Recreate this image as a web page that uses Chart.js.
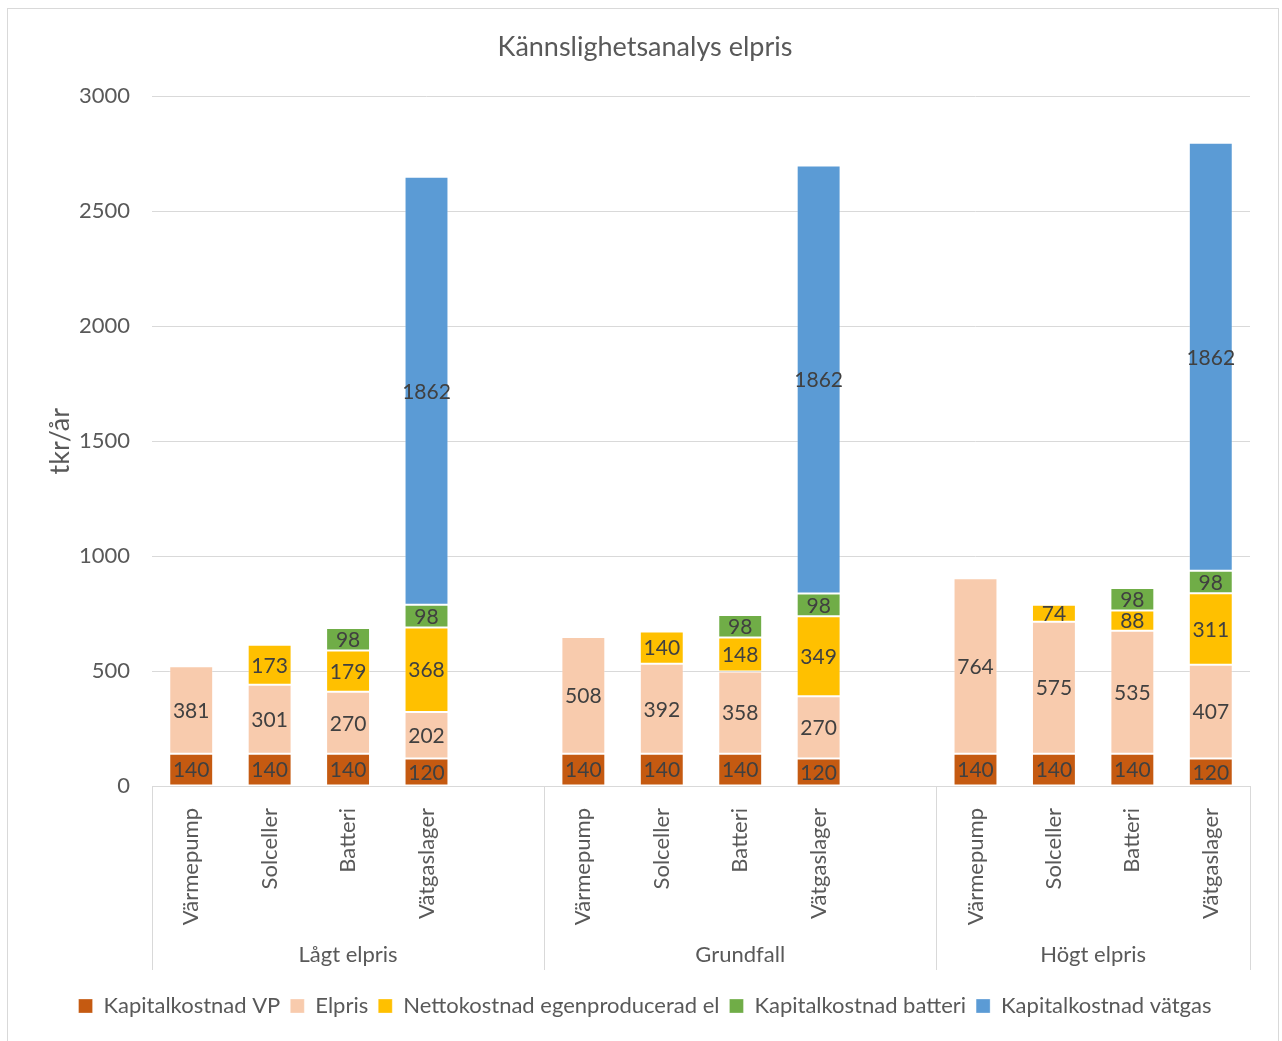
<!DOCTYPE html>
<html>
<head>
<meta charset="utf-8">
<script src="https://cdn.jsdelivr.net/npm/chart.js"></script>
<style>
  html, body { margin: 0; padding: 0; background: #fff; }
  #wrap { width: 1282px; height: 1041px; position: relative; }
</style>
</head>
<body>
<div id="wrap"><canvas id="chart"></canvas></div>
<script>
// categories (blank slots separate the groups)
const categories = [
  "Värmepump", "Solceller", "Batteri", "Vätgaslager", "",
  "Värmepump", "Solceller", "Batteri", "Vätgaslager", "",
  "Värmepump", "Solceller", "Batteri", "Vätgaslager"
];
const groupLabels = ["Lågt elpris", "Grundfall", "Högt elpris"];
const groupStarts = [0, 5, 10];
const groupEnds = [4, 9, 13];

const kapitalVP = [140, 140, 140, 120, null, 140, 140, 140, 120, null, 140, 140, 140, 120];
const elpris = [381, 301, 270, 202, null, 508, 392, 358, 270, null, 764, 575, 535, 407];
const nettokostnad = [null, 173, 179, 368, null, null, 140, 148, 349, null, null, 74, 88, 311];
const kapitalBatteri = [null, null, 98, 98, null, null, null, 98, 98, null, null, null, 98, 98];
const kapitalVatgas = [null, null, null, 1862, null, null, null, null, 1862, null, null, null, null, 1862];

const yTicks = [0, 500, 1000, 1500, 2000, 2500, 3000];

const FONT = "Lato";
const TEXT = "#595959";
const GRID = "#d9d9d9";

const frame = {
  id: "frame",
  beforeDraw(chart) {
    const c = chart.ctx;
    c.save();
    c.fillStyle = "#fff";
    c.fillRect(0, 0, chart.width, chart.height);
    c.strokeStyle = GRID;
    c.lineWidth = 1;
    c.strokeRect(7.5, 8.5, 1271, 1040);
    c.restore();
  },
};

const segmentLabels = {
  id: "segmentLabels",
  afterDatasetsDraw(chart) {
    const c = chart.ctx;
    c.save();
    c.font = "21px " + FONT;
    c.fillStyle = "#404040";
    c.textAlign = "center";
    c.textBaseline = "middle";
    chart.data.datasets.forEach((ds, i) => {
      const meta = chart.getDatasetMeta(i);
      meta.data.forEach((bar, j) => {
        const v = ds.data[j];
        if (v == null) return;
        c.fillText(String(v), bar.x, (bar.y + bar.base) / 2 + 1);
      });
    });
    c.restore();
  },
};

const groupAxis = {
  id: "groupAxis",
  afterDraw(chart) {
    const x = chart.scales.x;
    const c = chart.ctx;
    const top = chart.chartArea.bottom;
    const half = (x.getPixelForValue(1) - x.getPixelForValue(0)) / 2;
    c.save();
    c.strokeStyle = GRID;
    c.lineWidth = 1;
    c.font = "22px " + FONT;
    c.fillStyle = TEXT;
    c.textAlign = "center";
    c.textBaseline = "middle";
    const edges = [];
    groupLabels.forEach((label, g) => {
      const l = x.getPixelForValue(groupStarts[g]) - half;
      const r = x.getPixelForValue(groupEnds[g]) + half;
      edges.push(l, r);
      c.fillText(label, (l + r) / 2, 955);
    });
    [...new Set(edges.map((e) => Math.round(e)))].forEach((e) => {
      c.beginPath();
      c.moveTo(e + 0.5, top);
      c.lineTo(e + 0.5, 970);
      c.stroke();
    });
    c.restore();
  },
};

function makeSet(label, data, color) {
  return {
    label,
    data,
    backgroundColor: color,
    borderColor: "rgba(255,255,255,0.3)",
    borderWidth: 1,
    borderSkipped: false,
    barPercentage: 0.56,
    categoryPercentage: 1,
  };
}

new Chart(document.getElementById("chart"), {
  type: "bar",
  data: {
    labels: categories,
    datasets: [
      makeSet("Kapitalkostnad VP", kapitalVP, "#C55A11"),
      makeSet("Elpris", elpris, "#F8CBAD"),
      makeSet("Nettokostnad egenproducerad el", nettokostnad, "#FFC000"),
      makeSet("Kapitalkostnad batteri", kapitalBatteri, "#70AD47"),
      makeSet("Kapitalkostnad vätgas", kapitalVatgas, "#5B9BD5"),
    ],
  },
  options: {
    responsive: true,
    maintainAspectRatio: false,
    animation: false,
    layout: { padding: { left: 40, right: 32, top: 0, bottom: 14 } },
    plugins: {
      title: {
        display: true,
        text: "Kännslighetsanalys elpris",
        color: TEXT,
        font: { family: FONT, size: 27, weight: "normal" },
        padding: { top: 31, bottom: 33 },
      },
      legend: {
        position: "bottom",
        labels: {
          color: TEXT,
          font: { family: FONT, size: 22 },
          boxWidth: 14,
          boxHeight: 14,
          padding: 10,
        },
      },
      tooltip: { enabled: false },
    },
    scales: {
      x: {
        stacked: true,
        grid: { display: false },
        border: { display: true, color: GRID },
        ticks: {
          autoSkip: false,
          minRotation: 90,
          maxRotation: 90,
          padding: 14,
          color: TEXT,
          font: { family: FONT, size: 22 },
        },
        afterFit: (s) => { s.height = 199; },
      },
      y: {
        stacked: true,
        min: 0,
        max: 3000,
        afterBuildTicks: (s) => { s.ticks = yTicks.map((v) => ({ value: v })); },
        grid: { color: GRID, drawTicks: false },
        border: { display: false },
        ticks: {
          padding: 22,
          color: TEXT,
          font: { family: FONT, size: 22 },
          callback: (v) => String(v),
        },
        title: {
          display: true,
          text: "tkr/år",
          color: TEXT,
          font: { family: FONT, size: 27 },
          padding: { top: 4, bottom: 0 },
        },
        afterFit: (s) => { s.width = 112; },
      },
    },
  },
  plugins: [frame, segmentLabels, groupAxis],
});
</script>
</body>
</html>
